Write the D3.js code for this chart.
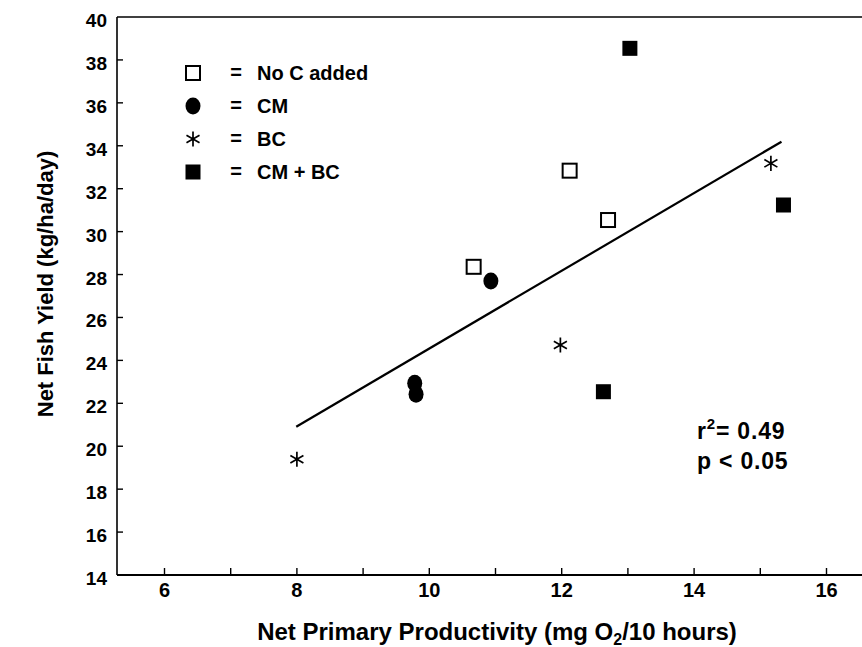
<!DOCTYPE html>
<html>
<head>
<meta charset="utf-8">
<script src="https://cdn.jsdelivr.net/npm/d3@7"></script>
<style>
    body { margin: 0; background: #fff; }
    svg { display: block; font-family: "Liberation Sans", Arial, Helvetica, sans-serif; }
</style>
</head>
<body>
<svg id="chart" width="862" height="647"></svg>
<script>
// values
const noCX = [10.67, 12.12, 12.70];
const noCY = [28.36, 32.84, 30.54];
const cmX = [9.78, 9.80, 10.93];
const cmY = [22.93, 22.42, 27.70];
const bcX = [8.00, 11.98, 15.16];
const bcY = [19.39, 24.72, 33.18];
const cmbcX = [12.63, 13.03, 15.35];
const cmbcY = [22.54, 38.54, 31.24];
const fitX = [7.99, 15.32];
const fitY = [20.91, 34.19];

const xTicks = [6, 7, 8, 9, 10, 11, 12, 13, 14, 15, 16];
const xLabels = [6, 8, 10, 12, 14, 16];
const yTicks = [16, 18, 20, 22, 24, 26, 28, 30, 32, 34, 36, 38];
const yLabels = [14, 16, 18, 20, 22, 24, 26, 28, 30, 32, 34, 36, 38, 40];
const legendNames = ["No C added", "CM", "BC", "CM + BC"];
const legendKinds = ["open", "circle", "star", "filled"];

const svg = d3.select("#chart");

const plotLeft = 117, plotRight = 862, plotTop = 17, plotBottom = 575;

const x = d3.scaleLinear().domain([6, 16]).range([164.5, 826.5]);
const y = d3.scaleLinear().domain([14, 40]).range([plotBottom, plotTop]);

// frame
svg.append("line").attr("x1", plotLeft).attr("x2", plotRight).attr("y1", plotTop).attr("y2", plotTop)
    .attr("stroke", "#000").attr("stroke-width", 1.6);
svg.append("line").attr("x1", plotLeft).attr("x2", plotRight).attr("y1", plotBottom).attr("y2", plotBottom)
    .attr("stroke", "#000").attr("stroke-width", 2);
svg.append("line").attr("x1", plotLeft).attr("x2", plotLeft).attr("y1", plotTop).attr("y2", plotBottom)
    .attr("stroke", "#000").attr("stroke-width", 1.6);

// x ticks (pointing up, inside)
svg.append("g").selectAll("line")
    .data(xTicks)
    .enter().append("line")
    .attr("x1", d => x(d)).attr("x2", d => x(d))
    .attr("y1", plotBottom).attr("y2", plotBottom - 7)
    .attr("stroke", "#000").attr("stroke-width", 1.4);

svg.append("g").selectAll("text")
    .data(xLabels)
    .enter().append("text")
    .attr("x", d => x(d))
    .attr("y", 597)
    .attr("text-anchor", "middle")
    .attr("font-size", "20px")
    .attr("font-weight", "bold")
    .text(d => d);

// y ticks
svg.append("g").selectAll("line")
    .data(yTicks)
    .enter().append("line")
    .attr("x1", plotLeft).attr("x2", plotLeft + 6)
    .attr("y1", d => y(d)).attr("y2", d => y(d))
    .attr("stroke", "#000").attr("stroke-width", 1.4);

svg.append("g").selectAll("text")
    .data(yLabels)
    .enter().append("text")
    .attr("x", 107)
    .attr("y", d => y(d) + 10)
    .attr("text-anchor", "end")
    .attr("font-size", "19px")
    .attr("font-weight", "bold")
    .text(d => d);

// axis titles
const xt = svg.append("text")
    .attr("x", 497)
    .attr("y", 640)
    .attr("text-anchor", "middle")
    .attr("font-size", "24px")
    .attr("font-weight", "bold");
xt.append("tspan").text("Net Primary Productivity (mg O");
xt.append("tspan").attr("font-size", "16px").attr("dy", 5).text("2");
xt.append("tspan").attr("dy", -5).text("/10 hours)");

svg.append("text")
    .attr("transform", "translate(53,284) rotate(-90)")
    .attr("text-anchor", "middle")
    .attr("font-size", "22px")
    .attr("font-weight", "bold")
    .text("Net Fish Yield (kg/ha/day)");

// regression line
svg.append("line")
    .attr("x1", x(fitX[0])).attr("y1", y(fitY[0]))
    .attr("x2", x(fitX[1])).attr("y2", y(fitY[1]))
    .attr("stroke", "#000").attr("stroke-width", 2.2);

// marker painters
function drawMarker(g, kind) {
    if (kind === "open") {
        g.append("rect").attr("x", -7).attr("y", -7).attr("width", 14).attr("height", 14)
            .attr("fill", "#fff").attr("stroke", "#000").attr("stroke-width", 2);
    } else if (kind === "filled") {
        g.append("rect").attr("x", -7.5).attr("y", -7.5).attr("width", 15).attr("height", 15)
            .attr("fill", "#000");
    } else if (kind === "circle") {
        g.append("ellipse").attr("rx", 7.5).attr("ry", 8.5).attr("fill", "#000");
    } else {
        g.append("path").attr("d", d3.symbol(d3.symbolAsterisk, 160)())
            .attr("fill", "none").attr("stroke", "#000").attr("stroke-width", 1.7);
    }
}

function drawSeries(xs, ys, kind) {
    svg.append("g").selectAll("g")
        .data(xs.map((v, i) => [v, ys[i]]))
        .enter().append("g")
        .attr("transform", d => `translate(${x(d[0])},${y(d[1])})`)
        .each(function () { drawMarker(d3.select(this), kind); });
}

drawSeries(noCX, noCY, "open");
drawSeries(cmX, cmY, "circle");
drawSeries(bcX, bcY, "star");
drawSeries(cmbcX, cmbcY, "filled");

// legend
const legend = svg.append("g").selectAll("g")
    .data(legendNames)
    .enter().append("g")
    .attr("transform", (d, i) => `translate(193,${73 + i * 33})`);

legend.each(function (d, i) { drawMarker(d3.select(this), legendKinds[i]); });

legend.append("text")
    .attr("x", 43).attr("y", 6)
    .attr("text-anchor", "middle")
    .attr("font-size", "20px")
    .attr("font-weight", "bold")
    .text("=");

legend.append("text")
    .attr("x", 64).attr("y", 7)
    .attr("font-size", "20px")
    .attr("font-weight", "bold")
    .text(d => d);

// stats
const stats = svg.append("text")
    .attr("x", 697).attr("y", 439)
    .attr("font-size", "23px")
    .attr("font-weight", "bold")
    .attr("letter-spacing", "0.8px");
stats.append("tspan").text("r");
stats.append("tspan").attr("font-size", "15px").attr("dy", -10).text("2");
stats.append("tspan").attr("dy", 10).text("= 0.49");

svg.append("text")
    .attr("x", 697).attr("y", 469)
    .attr("font-size", "23px")
    .attr("font-weight", "bold")
    .attr("letter-spacing", "0.8px")
    .text("p < 0.05");
</script>
</body>
</html>
